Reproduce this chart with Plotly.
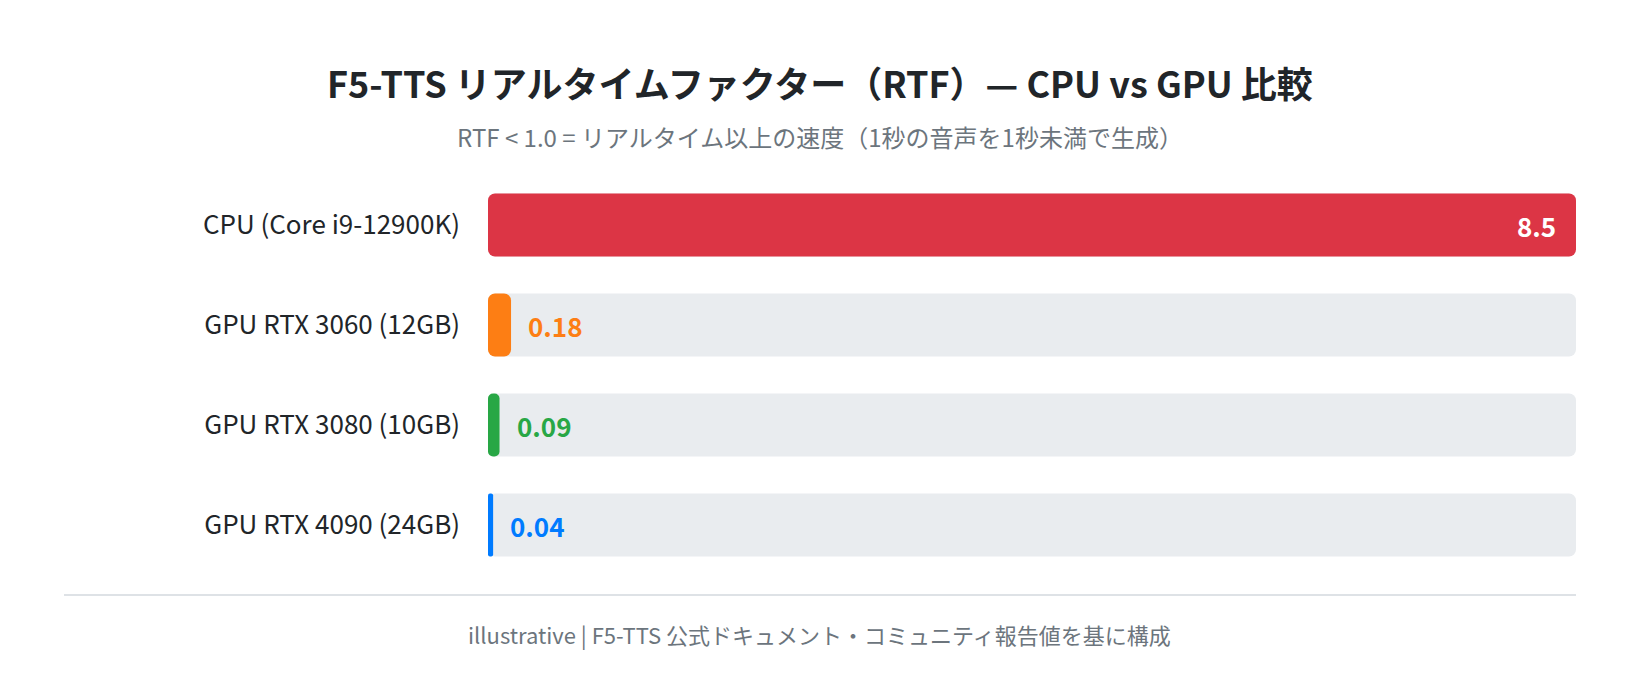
import plotly.graph_objects as go

# data
devices = ["CPU (Core i9-12900K)", "GPU RTX 3060 (12GB)", "GPU RTX 3080 (10GB)", "GPU RTX 4090 (24GB)"]
rtf = [8.5, 0.18, 0.09, 0.04]
rtf_labels = ["8.5", "0.18", "0.09", "0.04"]
colors = ["#dc3545", "#fd7e14", "#28a745", "#007bff"]
track_max = 8.5

FONT = "Noto Sans CJK JP"
TRACK = "#e9ecef"
RADIUS = 7
MID = 0.3051  # page centre in x-domain units

fig = go.Figure()

# background tracks (explicit base so both ends get rounded)
fig.add_trace(go.Bar(
    y=devices, x=[track_max] * len(devices), base=[0] * len(devices),
    orientation="h", width=0.63, marker=dict(color=TRACK, cornerradius=RADIUS, line_width=0),
    hoverinfo="skip", showlegend=False,
))

# value bars
fig.add_trace(go.Bar(
    y=devices, x=rtf, base=[0] * len(rtf),
    orientation="h", width=0.63, marker=dict(color=colors, cornerradius=RADIUS, line_width=0),
    hovertemplate="%{y}: %{customdata}<extra></extra>", customdata=rtf_labels,
    showlegend=False,
))

# value labels
for d, v, lab, c in zip(devices, rtf, rtf_labels, colors):
    inside = v >= track_max * 0.5
    fig.add_annotation(
        x=v, y=d, xref="x", yref="y", text=f"<b>{lab}</b>", showarrow=False,
        xanchor="right" if inside else "left", yanchor="middle",
        xshift=-18 if inside else 15,
        font=dict(family=FONT, size=26, color="white" if inside else c),
    )

# title, subtitle, footer
fig.add_annotation(
    x=MID, y=1.2325, xref="x domain", yref="paper", showarrow=False,
    xanchor="center", yanchor="middle",
    text="<b>F5-TTS リアルタイムファクター（RTF）— CPU vs GPU 比較</b>",
    font=dict(family=FONT, size=36, color="#212529"),
)
fig.add_annotation(
    x=MID, y=1.097, xref="x domain", yref="paper", showarrow=False,
    xanchor="center", yanchor="middle",
    text="RTF < 1.0 = リアルタイム以上の速度（1秒の音声を1秒未満で生成）",
    font=dict(family=FONT, size=24, color="#6c757d"),
)
fig.add_annotation(
    x=MID, y=-0.1475, xref="x domain", yref="paper", showarrow=False,
    xanchor="center", yanchor="middle",
    text="illustrative | F5-TTS 公式ドキュメント・コミュニティ報告値を基に構成",
    font=dict(family=FONT, size=22, color="#6c757d"),
)
fig.add_shape(
    type="line", xref="x domain", yref="paper", x0=-0.3897, x1=1.0, y0=-0.05, y1=-0.05,
    line=dict(color="#dee2e6", width=2),
)

fig.update_layout(
    width=1640, height=690,
    margin=dict(l=480, r=72, t=167, b=123),
    barmode="overlay",
    plot_bgcolor="white", paper_bgcolor="white",
    font=dict(family=FONT, color="#212529"),
    xaxis=dict(range=[0, track_max], visible=False, fixedrange=True),
    yaxis=dict(
        autorange="reversed", showgrid=False, zeroline=False, showline=False,
        ticks="", ticklabelstandoff=27, tickfont=dict(family=FONT, size=26, color="#212529"),
        fixedrange=True,
    ),
)

fig.write_html("out.html")
